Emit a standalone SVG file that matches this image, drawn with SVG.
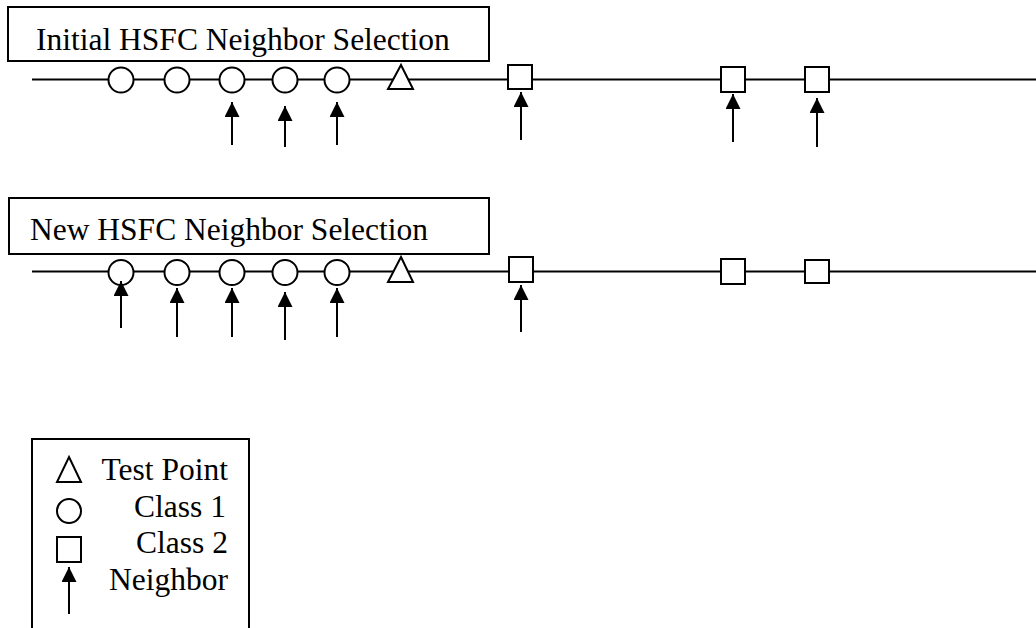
<svg xmlns="http://www.w3.org/2000/svg" width="1036" height="628" viewBox="0 0 1036 628">
<style>
.box{fill:#fff;stroke:#000;stroke-width:2}
.axis{stroke:#000;stroke-width:2;fill:none}
.pt{fill:#fff;stroke:#000;stroke-width:2}
.arr{stroke:#000;stroke-width:2;fill:none;marker-end:url(#ah)}
.t{font-family:"Liberation Serif","Times New Roman",serif;font-size:31.5px;fill:#000}
</style>
<defs>
<marker id="ah" markerWidth="15" markerHeight="15" refX="15" refY="7.5" orient="auto" markerUnits="userSpaceOnUse">
<path d="M0,0 L15,7.5 L0,15 z" fill="#000"/>
</marker>
</defs>
<rect width="1036" height="628" fill="#fff"/>

<g id="panel1-title">
<rect class="box" x="8" y="7" width="481" height="54"/>
<text class="t" x="36" y="50">Initial HSFC Neighbor Selection</text>
</g>
<g id="panel1-axis"><line class="axis" x1="32" y1="79.5" x2="1036" y2="79.5"/></g>
<g id="p1-c1"><circle class="pt" cx="121" cy="80" r="12.5"/></g>
<g id="p1-c2"><circle class="pt" cx="177" cy="80" r="12.5"/></g>
<g id="p1-c3"><circle class="pt" cx="232" cy="80" r="12.5"/></g>
<g id="p1-c4"><circle class="pt" cx="285" cy="80" r="12.5"/></g>
<g id="p1-c5"><circle class="pt" cx="337" cy="80" r="12.5"/></g>
<g id="p1-test"><polygon class="pt" points="401,65 413,89 388,89"/></g>
<g id="p1-s1"><rect class="pt" x="508" y="65" width="24" height="24"/></g>
<g id="p1-s2"><rect class="pt" x="721" y="67" width="24" height="25"/></g>
<g id="p1-s3"><rect class="pt" x="805" y="67" width="24" height="25"/></g>

<g id="panel2-title">
<rect class="box" x="9" y="198" width="480" height="56"/>
<text class="t" x="30" y="240">New HSFC Neighbor Selection</text>
</g>
<g id="panel2-axis"><line class="axis" x1="32" y1="271.5" x2="1036" y2="271.5"/></g>
<g id="p2-c1"><circle class="pt" cx="121" cy="272.5" r="12.5"/></g>
<g id="p2-c2"><circle class="pt" cx="177" cy="272.5" r="12.5"/></g>
<g id="p2-c3"><circle class="pt" cx="232" cy="272.5" r="12.5"/></g>
<g id="p2-c4"><circle class="pt" cx="285" cy="272.5" r="12.5"/></g>
<g id="p2-c5"><circle class="pt" cx="337" cy="272.5" r="12.5"/></g>
<g id="p2-test"><polygon class="pt" points="401,257 413,282 388,282"/></g>
<g id="p2-s1"><rect class="pt" x="509" y="257" width="24" height="25"/></g>
<g id="p2-s2"><rect class="pt" x="721" y="259" width="24" height="25"/></g>
<g id="p2-s3"><rect class="pt" x="805" y="260" width="24" height="23"/></g>

<g id="legend">
<rect class="box" x="32" y="439" width="217" height="200"/>
<polygon class="pt" points="69,457 81,482 57,482"/>
<circle class="pt" cx="69" cy="511" r="12"/>
<rect class="pt" x="57" y="537" width="24" height="25"/>
<line class="arr" x1="69" y1="614" x2="69" y2="567"/>
<text class="t" x="228" y="480" text-anchor="end">Test Point</text>
<text class="t" x="226" y="517" text-anchor="end">Class 1</text>
<text class="t" x="228" y="553" text-anchor="end">Class 2</text>
<text class="t" x="228" y="590" text-anchor="end">Neighbor</text>
</g>

<g id="connectors">
<line class="arr" x1="232" y1="145" x2="232" y2="102"/>
<line class="arr" x1="285" y1="147" x2="285" y2="106"/>
<line class="arr" x1="337" y1="145" x2="337" y2="102"/>
<line class="arr" x1="521" y1="140" x2="521" y2="92"/>
<line class="arr" x1="733" y1="142" x2="733" y2="94"/>
<line class="arr" x1="817" y1="147" x2="817" y2="98"/>
<line class="arr" x1="121" y1="328" x2="121" y2="281"/>
<line class="arr" x1="177" y1="337" x2="177" y2="288"/>
<line class="arr" x1="232" y1="337" x2="232" y2="288"/>
<line class="arr" x1="285" y1="340" x2="285" y2="292"/>
<line class="arr" x1="337" y1="337" x2="337" y2="288"/>
<line class="arr" x1="521" y1="332" x2="521" y2="285"/>
</g>
</svg>
